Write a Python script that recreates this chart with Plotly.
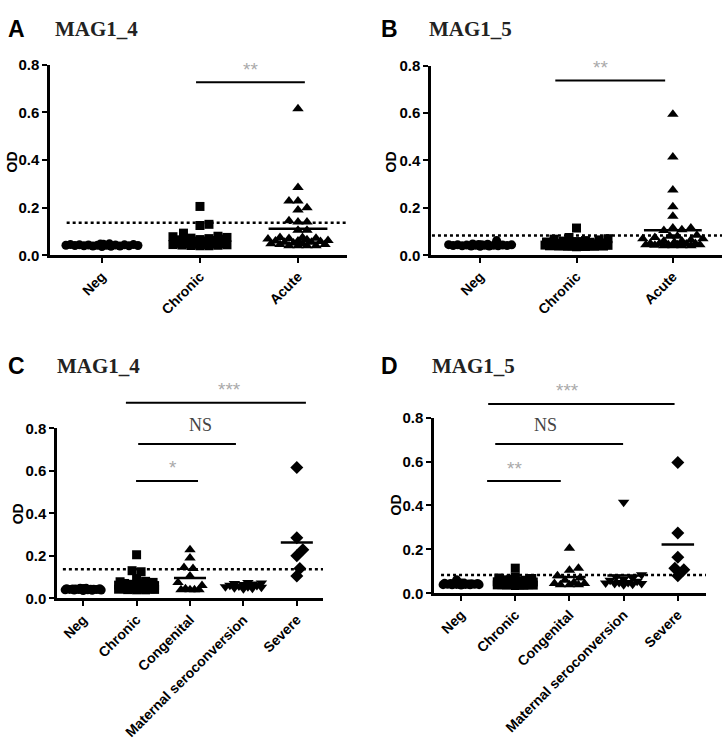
import numpy as np
import plotly.graph_objects as go

# ---------------- data ----------------
cats_ab = ["Neg", "Chronic", "Acute"]
cats_cd = ["Neg", "Chronic", "Congenital", "Maternal seroconversion", "Severe"]

# MAG1_4
neg_m4 = [0.048, 0.047, 0.046, 0.045, 0.045, 0.044, 0.044, 0.043, 0.043, 0.042,
          0.042, 0.042, 0.041, 0.041, 0.040, 0.040, 0.039, 0.039, 0.038, 0.037]
chronic_m4 = [0.205, 0.130, 0.125, 0.093, 0.080, 0.078, 0.075, 0.072, 0.070, 0.068,
              0.066, 0.065, 0.063, 0.062, 0.060, 0.060, 0.058, 0.057, 0.056, 0.055,
              0.055, 0.054, 0.053, 0.052, 0.052, 0.051, 0.050, 0.050, 0.049, 0.048,
              0.047, 0.046, 0.045, 0.045, 0.044, 0.043, 0.042, 0.041, 0.040, 0.040]
congenital_m4 = [0.228, 0.190, 0.145, 0.140, 0.105, 0.075, 0.060, 0.045, 0.040, 0.040, 0.040, 0.040]
maternal_m4 = [0.075, 0.072, 0.070, 0.068, 0.065, 0.062, 0.060, 0.058, 0.055, 0.055,
               0.052, 0.050, 0.048, 0.045]
severe_m4 = [0.615, 0.285, 0.228, 0.200, 0.140, 0.105]
acute_m4 = congenital_m4 + maternal_m4 + severe_m4
cutoff_m4 = 0.137

# MAG1_5
neg_m5 = [0.062, 0.048, 0.047, 0.046, 0.045, 0.045, 0.044, 0.044, 0.043, 0.043,
          0.042, 0.042, 0.042, 0.041, 0.041, 0.040, 0.040, 0.039, 0.039, 0.038]
chronic_m5 = [0.115, 0.075, 0.070, 0.068, 0.065, 0.062, 0.060, 0.058, 0.056, 0.055,
              0.054, 0.053, 0.052, 0.051, 0.050, 0.050, 0.049, 0.048, 0.047, 0.046,
              0.046, 0.045, 0.045, 0.044, 0.044, 0.043, 0.043, 0.042, 0.042, 0.041,
              0.041, 0.040, 0.040, 0.040, 0.039, 0.039, 0.038, 0.038, 0.037, 0.036]
congenital_m5 = [0.205, 0.115, 0.105, 0.080, 0.070, 0.060, 0.050, 0.045, 0.045, 0.040, 0.040, 0.040]
maternal_m5 = [0.415, 0.085, 0.075, 0.070, 0.065, 0.060, 0.055, 0.050, 0.050, 0.048,
               0.045, 0.045, 0.042, 0.040]
severe_m5 = [0.595, 0.275, 0.165, 0.115, 0.108, 0.080]
acute_m5 = congenital_m5 + maternal_m5 + severe_m5
cutoff_m5 = 0.084

# significance labels (label, group from, group to, bar height in OD)
sig_a = [("**", 0.96, 2.07, 0.726)]
sig_b = [("**", 0.78, 1.92, 0.738)]
sig_c = [("***", 0.80, 4.17, 0.920), ("NS", 1.03, 2.86, 0.726), ("*", 0.99, 2.15, 0.552)]
sig_d = [("***", 0.50, 3.94, 0.862), ("NS", 0.63, 2.99, 0.680), ("**", 0.48, 1.84, 0.511)]

# ---------------- layout helpers ----------------
W, H = 728, 750
FONT = "Liberation Sans"
SERIF = "Liberation Serif"

panels = [
    dict(letter="A", title="MAG1_4", cats=cats_ab, groups=[neg_m4, chronic_m4, acute_m4],
         symbols=["circle", "square", "triangle-up"], cutoff=cutoff_m4, sig=sig_a,
         xpx=(50, 347), ypx=(57, 252), xr=(-0.53, 2.5), cut0=-0.36,
         halfpx=[36, 27, 30], od=(12, 157), lab=(16, 20), tit=(53, 20)),
    dict(letter="B", title="MAG1_5", cats=cats_ab, groups=[neg_m5, chronic_m5, acute_m5],
         symbols=["circle", "square", "triangle-up"], cutoff=cutoff_m5, sig=sig_b,
         xpx=(431, 722), ypx=(58, 252), xr=(-0.51, 2.51), cut0=-0.5,
         halfpx=[32, 32, 30], od=(391, 157), lab=(389, 20), tit=(427, 20)),
    dict(letter="C", title="MAG1_4", cats=cats_cd,
         groups=[neg_m4, chronic_m4, congenital_m4, maternal_m4, severe_m4],
         symbols=["circle", "square", "triangle-up", "triangle-down", "diamond"],
         cutoff=cutoff_m4, sig=sig_c,
         xpx=(57, 323), ypx=(429, 603), xr=(-0.49, 4.49), cut0=-0.38,
         halfpx=[18, 18, 13, 18, 12], od=(18, 517), lab=(16, 365), tit=(55, 365)),
    dict(letter="D", title="MAG1_5", cats=cats_cd,
         groups=[neg_m5, chronic_m5, congenital_m5, maternal_m5, severe_m5],
         symbols=["circle", "square", "triangle-up", "triangle-down", "diamond"],
         cutoff=cutoff_m5, sig=sig_d,
         xpx=(434, 706), ypx=(418, 598), xr=(-0.5, 4.52), cut0=-0.37,
         halfpx=[19, 18, 15, 18, 13], od=(396, 507), lab=(389, 365), tit=(430, 365)),
]


def beeswarm(vals, ppu_y, ppc_x, maxhalf_px, diam=8.0, grid=1.5):
    """Place points side by side (pixel space) so they overlap as little as possible."""
    v = np.asarray(vals, float)
    order = np.argsort(v, kind="stable")
    cands = [0.0]
    k = 1
    while k * grid <= maxhalf_px:
        cands += [k * grid, -k * grid]
        k += 1
    px, py = [], []
    off = np.zeros(len(v))
    for idx in order:
        y = v[idx] * ppu_y
        best, bestd = 0.0, -1.0
        for c in cands:
            if px:
                d = np.min(np.hypot(np.array(px) - c, np.array(py) - y))
            else:
                d = np.inf
            if d >= diam:
                best = c
                break
            if d > bestd + 1e-9:
                bestd, best = d, c
        px.append(best)
        py.append(y)
        off[idx] = best / ppc_x
    return off


fig = go.Figure()
shapes = []
annotations = []
layout_axes = {}

for i, p in enumerate(panels):
    n = i + 1
    xa = "x" if n == 1 else f"x{n}"
    ya = "y" if n == 1 else f"y{n}"
    xd = [p["xpx"][0] / W, p["xpx"][1] / W]
    yd = [1 - p["ypx"][1] / H, 1 - p["ypx"][0] / H]
    ppu_y = (p["ypx"][1] - p["ypx"][0]) / 0.8
    ppc_x = (p["xpx"][1] - p["xpx"][0]) / (p["xr"][1] - p["xr"][0])

    def px_x(c, p=p, xd=xd):
        return xd[0] + (c - p["xr"][0]) / (p["xr"][1] - p["xr"][0]) * (xd[1] - xd[0])

    def px_y(v, yd=yd):
        return yd[0] + v / 0.8 * (yd[1] - yd[0])

    for g, (vals, sym) in enumerate(zip(p["groups"], p["symbols"])):
        off = beeswarm(vals, ppu_y, ppc_x, p["halfpx"][g])
        size = 9 if sym in ("circle", "square") else 10
        fig.add_trace(go.Scatter(
            x=g + off, y=vals, mode="markers", xaxis=xa, yaxis=ya,
            marker=dict(symbol=sym, size=size, color="black", line=dict(width=0)),
            showlegend=False, cliponaxis=False, hoverinfo="y"))
        m = float(np.mean(vals))
        shapes.append(dict(type="line", xref=xa, yref=ya, x0=g - 0.3, x1=g + 0.3,
                           y0=m, y1=m, line=dict(color="black", width=2.5), layer="above"))

    # cutoff dotted line
    shapes.append(dict(type="line", xref=xa, yref=ya, x0=p["cut0"], x1=p["xr"][1],
                       y0=p["cutoff"], y1=p["cutoff"],
                       line=dict(color="black", width=2.5, dash="dot"), layer="above"))

    # significance bars
    for lab, g0, g1, h in p["sig"]:
        shapes.append(dict(type="line", xref="paper", yref="paper",
                           x0=px_x(g0), x1=px_x(g1), y0=px_y(h), y1=px_y(h),
                           line=dict(color="black", width=2)))
        if lab == "NS":
            annotations.append(dict(text="NS", xref="paper", yref="paper",
                                    x=px_x((g0 + g1) / 2), y=px_y(h), yshift=19,
                                    showarrow=False, yanchor="middle",
                                    font=dict(family=SERIF, size=18, color="#444444")))
        else:
            annotations.append(dict(text=lab, xref="paper", yref="paper",
                                    x=px_x((g0 + g1) / 2), y=px_y(h), yshift=13,
                                    showarrow=False, yanchor="middle",
                                    font=dict(family=FONT, size=19, color="#aaaaaa")))

    # OD title
    annotations.append(dict(text="<b>OD</b>", xref="paper", yref="paper",
                            x=p["od"][0] / W, y=1 - p["od"][1] / H, textangle=-90,
                            showarrow=False, xanchor="center", yanchor="middle",
                            font=dict(family=FONT, size=14, color="black")))
    # panel letter & title
    annotations.append(dict(text=f"<b>{p['letter']}</b>", xref="paper", yref="paper",
                            x=p["lab"][0] / W, y=1 - p["lab"][1] / H, showarrow=False,
                            xanchor="center", yanchor="middle",
                            font=dict(family=FONT, size=23, color="black")))
    annotations.append(dict(text=f"<b>{p['title']}</b>", xref="paper", yref="paper",
                            x=p["tit"][0] / W, y=1 - p["tit"][1] / H, showarrow=False,
                            xanchor="left", yanchor="middle",
                            font=dict(family=SERIF, size=21, color="#222222")))

    layout_axes["xaxis" if n == 1 else f"xaxis{n}"] = dict(
        domain=xd, range=list(p["xr"]), anchor=ya, showline=True, linewidth=2.5,
        linecolor="black", ticks="outside", ticklen=5, tickwidth=2, tickcolor="black",
        tickvals=list(range(len(p["cats"]))), ticktext=p["cats"], tickangle=-45,
        showgrid=False, zeroline=False, fixedrange=True,
        tickfont=dict(family=FONT, size=14, color="black", weight="bold"))
    layout_axes["yaxis" if n == 1 else f"yaxis{n}"] = dict(
        domain=yd, range=[0, 0.8], anchor=xa, showline=True, linewidth=2.5,
        linecolor="black", ticks="outside", ticklen=5, tickwidth=2, tickcolor="black",
        tickvals=[0, 0.2, 0.4, 0.6, 0.8], ticktext=["0.0", "0.2", "0.4", "0.6", "0.8"],
        showgrid=False, zeroline=False, fixedrange=True,
        tickfont=dict(family=FONT, size=15, color="black", weight="bold"))

fig.update_layout(width=W, height=H, margin=dict(l=0, r=0, t=0, b=0),
                  paper_bgcolor="white", plot_bgcolor="white",
                  shapes=shapes, annotations=annotations, **layout_axes)
fig.write_html("out.html", config={"displayModeBar": False},
               post_script=["document.body.style.margin='0';document.body.style.overflow='hidden';"])
